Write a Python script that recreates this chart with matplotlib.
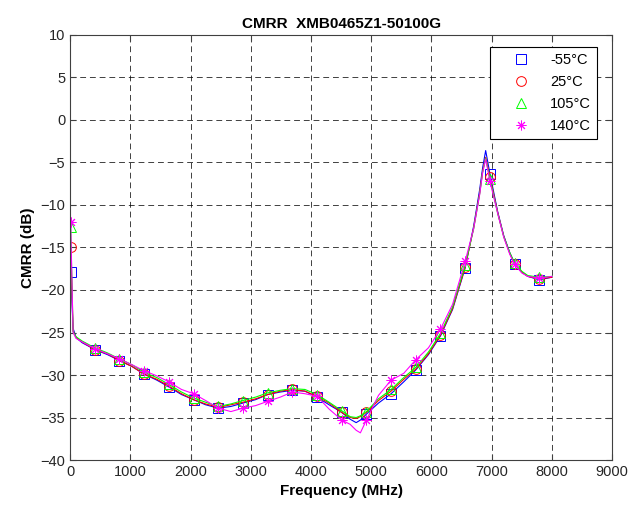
import numpy as np
import matplotlib
matplotlib.use("Agg")
import matplotlib.pyplot as plt
from matplotlib.lines import Line2D

# =========================
# DATA
# =========================
freq = [10, 50, 100, 200, 410, 620, 820, 1030, 1230, 1440,
        1640, 1850, 2050, 2250, 2460, 2670, 2870, 3080, 3280, 3490,
        3690, 3900, 4100, 4300, 4510, 4650, 4750, 4820, 4920, 5120,
        5330, 5540, 5740, 5950, 6150, 6350, 6560, 6700, 6800, 6850,
        6900, 6970, 7100, 7200, 7300, 7380, 7500, 7600, 7790, 8000]

marker_freq = [10, 410, 820, 1230, 1640, 2050, 2460, 2870, 3280, 3690,
               4100, 4510, 4920, 5330, 5740, 6150, 6560, 6970, 7380, 7790]

cmrr_m55 = [-17.9, -24.5, -25.6, -26.2, -27.0, -27.6, -28.3, -29.0, -29.9, -30.6,
            -31.4, -32.3, -32.9, -33.5, -33.9, -33.7, -33.3, -32.9, -32.3, -32.0,
            -31.8, -31.9, -32.6, -33.5, -34.4, -35.2, -35.6, -35.3, -34.6, -33.3,
            -32.2, -30.8, -29.4, -27.6, -25.4, -22.3, -17.4, -12.5, -8.2, -5.6,
            -3.6, -6.3, -10.8, -13.6, -15.6, -16.9, -17.9, -18.4, -18.8, -18.5]

cmrr_25 = [-15.0, -24.8, -25.6, -26.1, -27.0, -27.5, -28.3, -29.0, -29.9, -30.5,
           -31.3, -32.2, -32.9, -33.4, -33.8, -33.5, -33.2, -32.8, -32.3, -31.9,
           -31.7, -31.9, -32.5, -33.3, -34.4, -35.0, -35.1, -34.9, -34.4, -33.0,
           -31.9, -30.5, -29.3, -27.5, -25.3, -22.2, -17.3, -12.7, -8.6, -6.0,
           -4.4, -6.7, -10.9, -13.7, -15.7, -16.9, -17.9, -18.4, -18.7, -18.5]

cmrr_105 = [-12.6, -24.9, -25.5, -26.0, -26.8, -27.4, -28.1, -28.8, -29.7, -30.3,
            -31.1, -32.0, -32.7, -33.2, -33.7, -33.4, -33.0, -32.6, -32.1, -31.8,
            -31.6, -31.7, -32.3, -33.2, -34.2, -34.9, -35.0, -34.8, -34.3, -32.8,
            -31.7, -30.3, -29.1, -27.3, -25.1, -22.0, -17.1, -12.8, -8.7, -6.1,
            -4.5, -6.9, -11.0, -13.7, -15.6, -16.8, -17.8, -18.3, -18.5, -18.4]

cmrr_140 = [-12.0, -25.0, -25.7, -26.1, -26.9, -27.5, -28.1, -28.8, -29.5, -30.1,
            -30.8, -31.7, -32.2, -33.0, -33.9, -34.3, -33.9, -33.6, -33.1, -32.6,
            -32.0, -32.2, -32.5, -34.0, -35.3, -35.8, -36.5, -36.8, -35.3, -32.4,
            -30.6, -29.8, -28.2, -26.8, -24.6, -21.7, -16.6, -12.8, -8.8, -6.2,
            -4.6, -7.2, -11.0, -13.8, -15.8, -17.0, -18.0, -18.4, -18.6, -18.4]

labels = ["-55°C", "25°C", "105°C", "140°C"]
series = [cmrr_m55, cmrr_25, cmrr_105, cmrr_140]
colors = ["#0000ff", "#ff0000", "#00ff00", "#ff00ff"]
markers = ["s", "o", "^", (8, 2, 0)]   # last one: matlab-style asterisk

# =========================
# PLOT
# =========================
plt.rcParams["font.family"] = ["Liberation Sans", "DejaVu Sans"]

fig = plt.figure(figsize=(6.37, 5.14), dpi=100)
ax = fig.add_axes([0.110, 0.105, 0.851, 0.827])

mk = [freq.index(f) for f in marker_freq]

for vals, c, m in zip(series, colors, markers):
    ax.plot(freq, vals, color=c, lw=0.8)
    ax.plot([freq[i] for i in mk], [vals[i] for i in mk], ls="none",
            marker=m, ms=7, mfc="none", mec=c, mew=0.7)

ax.set_xlim(0, 9000)
ax.set_ylim(-40, 10)
ax.set_xticks(range(0, 9001, 1000))
ax.set_yticks(range(-40, 11, 5))
ax.grid(True, color="black", ls=(0, (6, 4)), lw=0.7, alpha=0.75)
ax.tick_params(direction="in", top=True, right=True, labelsize=10.5,
               labelcolor="#262626", length=4, color="#404040")
for s in ax.spines.values():
    s.set_color("#404040")
    s.set_linewidth(0.8)

ax.set_title("CMRR  XMB0465Z1-50100G", fontsize=11, fontweight="bold", pad=5)
ax.set_xlabel("Frequency (MHz)", fontsize=11, fontweight="bold")
ax.set_ylabel("CMRR (dB)", fontsize=11, fontweight="bold")

handles = [Line2D([], [], ls="none", marker=m, ms=7, mfc="none", mec=c, mew=0.7)
           for c, m in zip(colors, markers)]
leg = ax.legend(handles, labels, loc="upper right", bbox_to_anchor=(0.972, 0.972),
                fontsize=10.5, fancybox=False, framealpha=1, edgecolor="black",
                borderaxespad=0, handlelength=3.4, handletextpad=0.3,
                labelspacing=0.55)
leg.get_frame().set_linewidth(0.8)

fig.savefig("out.png", dpi=100)
